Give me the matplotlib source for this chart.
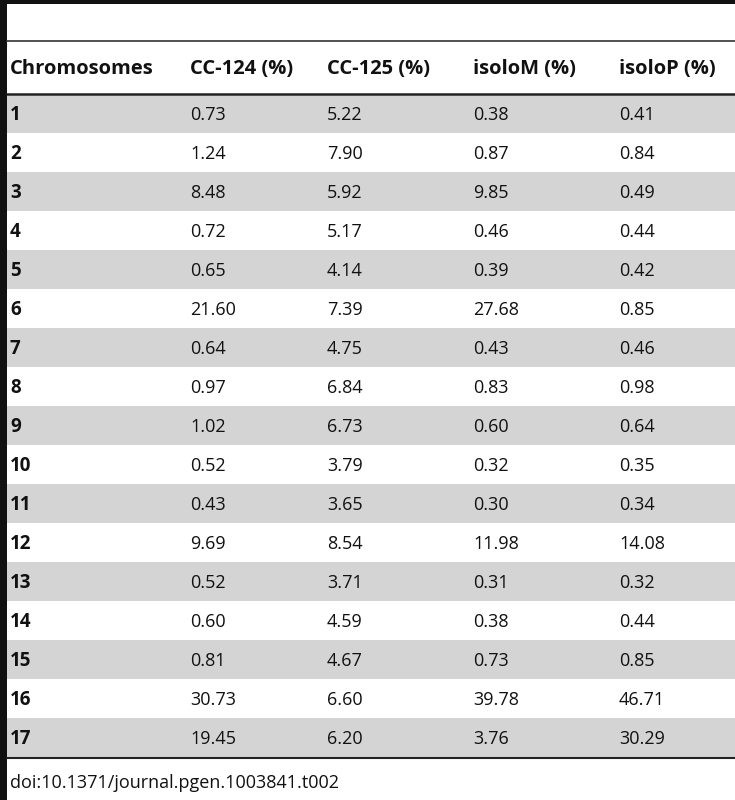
import matplotlib.pyplot as plt
from matplotlib.patches import Rectangle

headers = ["Chromosomes", "CC-124 (%)", "CC-125 (%)", "isoloM (%)", "isoloP (%)"]
chromosomes = [str(i) for i in range(1, 18)]
cc124 = ["0.73", "1.24", "8.48", "0.72", "0.65", "21.60", "0.64", "0.97", "1.02",
         "0.52", "0.43", "9.69", "0.52", "0.60", "0.81", "30.73", "19.45"]
cc125 = ["5.22", "7.90", "5.92", "5.17", "4.14", "7.39", "4.75", "6.84", "6.73",
         "3.79", "3.65", "8.54", "3.71", "4.59", "4.67", "6.60", "6.20"]
isolom = ["0.38", "0.87", "9.85", "0.46", "0.39", "27.68", "0.43", "0.83", "0.60",
          "0.32", "0.30", "11.98", "0.31", "0.38", "0.73", "39.78", "3.76"]
isolop = ["0.41", "0.84", "0.49", "0.44", "0.42", "0.85", "0.46", "0.98", "0.64",
          "0.35", "0.34", "14.08", "0.32", "0.44", "0.85", "46.71", "30.29"]
doi = "doi:10.1371/journal.pgen.1003841.t002"

W, H = 735, 800
fig = plt.figure(figsize=(W / 100, H / 100), dpi=100)
ax = fig.add_axes([0, 0, 1, 1])
ax.set_xlim(0, W)
ax.set_ylim(H, 0)
ax.axis("off")

col_x = [10, 190, 327, 473, 619]
top = 94
rh = 39.0
gray = "#d4d4d4"
fs = 13
font = "Open Sans"

# frame lines
ax.add_patch(Rectangle((0, 0), 7, H, color="#111111", lw=0))
ax.add_patch(Rectangle((0, 0), W, 3.5, color="#111111", lw=0))
ax.plot([7, W], [40.5, 40.5], color="#333333", lw=1.2)

# header
for x, h in zip(col_x, headers):
    ax.text(x, 69, h, fontsize=14.5, fontweight="bold", family=font,
            va="center", ha="left", color="#111111")

columns = [chromosomes, cc124, cc125, isolom, isolop]
for i in range(len(chromosomes)):
    y0 = top + i * rh
    if i % 2 == 0:
        ax.add_patch(Rectangle((7, y0), W - 7, rh, color=gray, lw=0))
    for j, col in enumerate(columns):
        ax.text(col_x[j], y0 + rh / 2 + 1.5, col[i], fontsize=fs + 0.5 if j == 0 else fs,
                family=font, fontweight="bold" if j == 0 else "normal",
                va="center", ha="left", color="#111111")

ax.plot([7, W], [top, top], color="#222222", lw=1.8)
bottom = top + len(chromosomes) * rh
ax.plot([7, W], [bottom + 1, bottom + 1], color="#222222", lw=1.5)

ax.text(10, 783, doi, fontsize=13, family=font, va="center", ha="left",
        color="#111111")

fig.savefig("out.png", dpi=100)
